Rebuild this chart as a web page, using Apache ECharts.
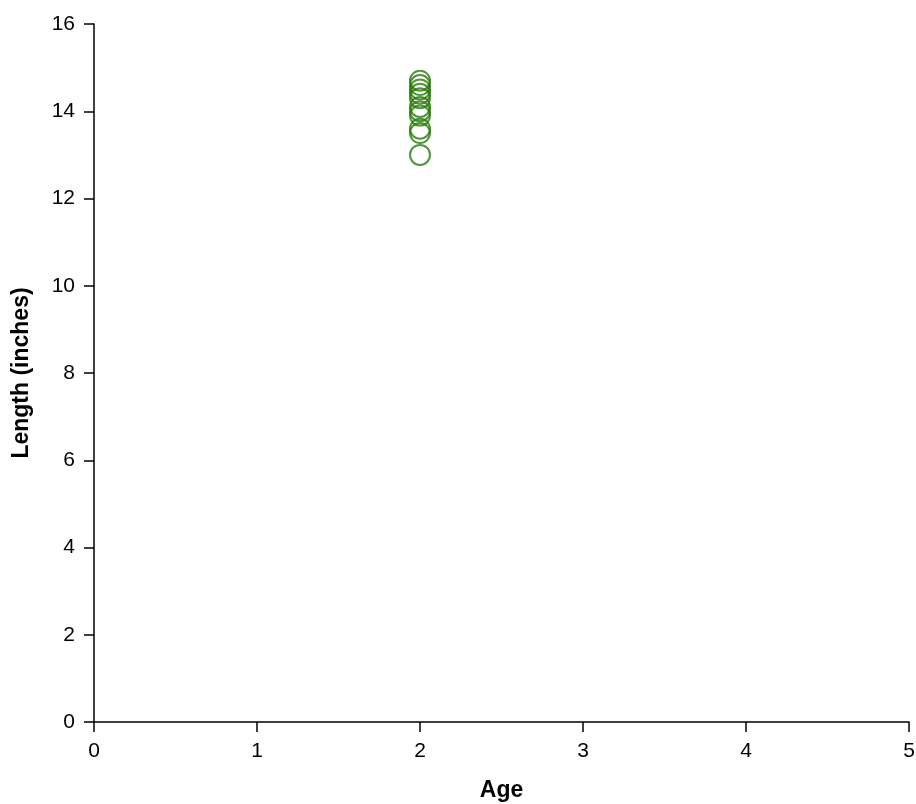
<!DOCTYPE html>
<html><head><meta charset="utf-8">
<script src="https://cdn.jsdelivr.net/npm/echarts@6/dist/echarts.min.js"></script>
<style>html,body{margin:0;padding:0;background:#fff}#c{width:916px;height:804px}</style>
</head><body><div id="c"></div>
<script>
const ages = [2,2,2,2,2,2,2,2,2,2,2];
const lengths = [13.0,13.5,13.6,13.9,14.0,14.1,14.3,14.4,14.5,14.6,14.7];
const xTicks = [0,1,2,3,4,5];
const yTicks = [0,2,4,6,8,10,12,14,16];
const chart = echarts.init(document.getElementById('c'));
const font = 'Liberation Sans, Arial, sans-serif';
chart.setOption({
  animation:false,
  grid:{left:94,right:7,top:24,bottom:82,containLabel:false,outerBoundsMode:'none'},
  xAxis:{type:'value',min:0,max:5,interval:1,name:'Age',nameLocation:'middle',nameGap:57,
    nameTextStyle:{fontFamily:font,fontWeight:'bold',fontSize:23,color:'#000'},
    axisLine:{show:true,lineStyle:{color:'#000',width:1.5}},
    axisTick:{show:true,length:10,lineStyle:{color:'#000',width:1.5}},
    axisLabel:{fontFamily:font,fontSize:21,color:'#000',margin:19},
    splitLine:{show:false}},
  yAxis:{type:'value',min:0,max:16,interval:2,name:'Length (inches)',nameLocation:'middle',nameGap:61,
    nameTextStyle:{fontFamily:font,fontWeight:'bold',fontSize:23,color:'#000'},
    axisLine:{show:true,lineStyle:{color:'#000',width:1.5}},
    axisTick:{show:true,length:10,lineStyle:{color:'#000',width:1.5}},
    axisLabel:{fontFamily:font,fontSize:21,color:'#000',margin:19},
    splitLine:{show:false}},
  series:[{type:'scatter',symbol:'circle',symbolSize:20,
    data:ages.map((a,i)=>[a,lengths[i]]),
    itemStyle:{color:'rgba(255,255,255,0)',borderColor:'#287a08',borderWidth:2}}]
});
</script></body></html>
